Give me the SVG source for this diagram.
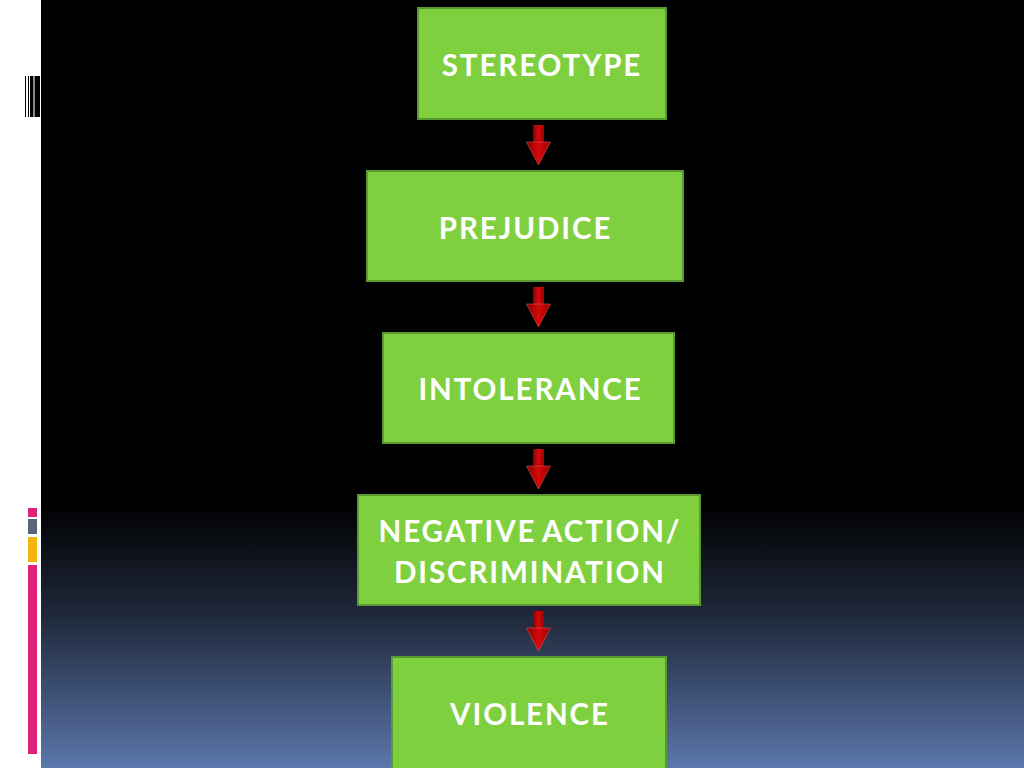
<svg xmlns="http://www.w3.org/2000/svg" width="1024" height="768" viewBox="0 0 1024 768">
<defs>
<linearGradient id="bg" x1="0" y1="0" x2="0" y2="1">
<stop offset="0" stop-color="#000000"/>
<stop offset="0.655" stop-color="#000000"/>
<stop offset="0.8" stop-color="#1f283a"/>
<stop offset="1" stop-color="#5b77ab"/>
</linearGradient>
<linearGradient id="ar" x1="0" y1="0" x2="1" y2="0">
<stop offset="0" stop-color="#8a0000"/>
<stop offset="0.5" stop-color="#d40a0a"/>
<stop offset="1" stop-color="#9a0000"/>
</linearGradient>
<g id="arrow">
<rect x="-5.5" y="0" width="11" height="18" fill="url(#ar)"/>
<path d="M-12,17 L12,17 L0,40 Z" fill="url(#ar)" stroke="#e05050" stroke-width="0.6"/>
</g>
</defs>
<style>
.box{fill:#7fd03f;stroke:#5a9a32;stroke-width:2}
.lbl{fill:#ffffff;font-family:Lato,"Open Sans","Liberation Sans",sans-serif;font-weight:bold;font-size:29.5px;letter-spacing:1.9px;text-anchor:middle;dominant-baseline:central}
</style>
<rect x="0" y="0" width="1024" height="768" fill="url(#bg)"/>
<rect x="0" y="0" width="41" height="768" fill="#ffffff"/>
<g id="deco-top">
<rect x="25" y="76" width="1" height="41" fill="#000"/>
<rect x="28" y="76" width="1" height="41" fill="#000"/>
<rect x="30" y="76" width="3" height="41" fill="#000"/>
<rect x="33" y="76" width="2" height="41" fill="#888"/>
<rect x="35" y="76" width="5" height="41" fill="#000"/>
</g>
<g id="deco-bottom">
<rect x="28" y="508" width="9" height="9" fill="#e0217a"/>
<rect x="28" y="519" width="9" height="15" fill="#5a6478"/>
<rect x="28" y="537" width="9" height="25" fill="#f5b50f"/>
<rect x="28" y="565" width="9" height="189" fill="#e0217a"/>
</g>
<g id="connectors">
<use href="#arrow" x="538.5" y="125"/>
<use href="#arrow" x="538.5" y="287"/>
<use href="#arrow" x="538.5" y="449"/>
<use href="#arrow" x="538.5" y="611"/>
</g>
<g id="stereotype">
<rect class="box" x="418" y="8" width="248" height="111"/>
<text class="lbl" x="542" y="64">STEREOTYPE</text>
</g>
<g id="prejudice">
<rect class="box" x="367" y="171" width="316" height="110"/>
<text class="lbl" x="525.5" y="227">PREJUDICE</text>
</g>
<g id="intolerance">
<rect class="box" x="383" y="333" width="291" height="110"/>
<text class="lbl" x="530.5" y="388">INTOLERANCE</text>
</g>
<g id="negative-action">
<rect class="box" x="358" y="495" width="342" height="110"/>
<text class="lbl" x="530" y="530" word-spacing="-2.5">NEGATIVE ACTION/</text>
<text class="lbl" x="530" y="571">DISCRIMINATION</text>
</g>
<g id="violence">
<rect class="box" x="392" y="657" width="274" height="115"/>
<text class="lbl" x="530" y="713">VIOLENCE</text>
</g>
</svg>
